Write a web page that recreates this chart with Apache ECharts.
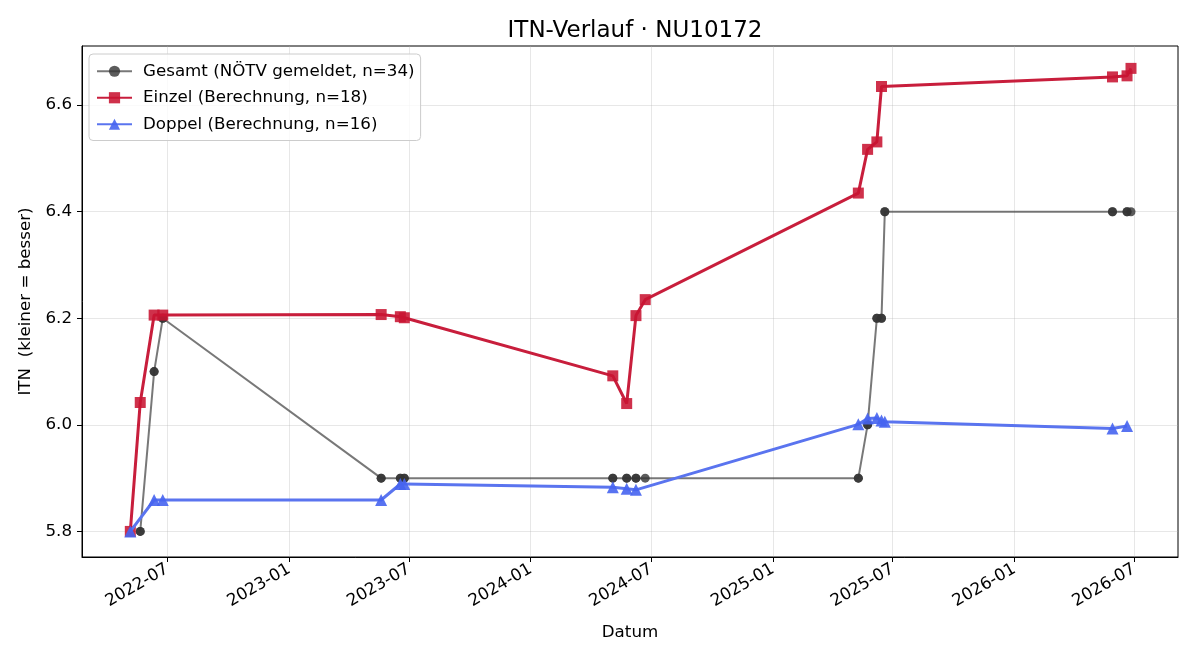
<!DOCTYPE html>
<html>
<head>
<meta charset="utf-8">
<script src="https://cdn.jsdelivr.net/npm/echarts@6/dist/echarts.min.js"></script>
<style>
  html, body { margin: 0; padding: 0; background: #fff; }
  #itnChart { width: 1200px; height: 660px; }
</style>
</head>
<body>
<div id="itnChart"></div>
<script>
// Gesamt (NÖTV gemeldet) - many reports fall on the same day
const gesamtDates = [
  '2022-05-21', '2022-05-21', '2022-06-11', '2022-06-11', '2022-06-24', '2022-06-24',
  '2023-05-20', '2023-05-20', '2023-06-18', '2023-06-18', '2023-06-24', '2023-06-24',
  '2024-05-04', '2024-05-04', '2024-05-25', '2024-05-25', '2024-06-08', '2024-06-08',
  '2024-06-22', '2025-05-10', '2025-05-10', '2025-05-24', '2025-05-24', '2025-06-07',
  '2025-06-07', '2025-06-14', '2025-06-14', '2025-06-19', '2025-06-19', '2026-05-29',
  '2026-05-29', '2026-06-20', '2026-06-20', '2026-06-26'
];
const gesamtValues = [
  5.8, 5.8, 6.1, 6.1, 6.2, 6.2,
  5.9, 5.9, 5.9, 5.9, 5.9, 5.9,
  5.9, 5.9, 5.9, 5.9, 5.9, 5.9,
  5.9, 5.9, 5.9, 6.0, 6.0, 6.2,
  6.2, 6.2, 6.2, 6.4, 6.4, 6.4,
  6.4, 6.4, 6.4, 6.4
];

const einzelDates = [
  '2022-05-06', '2022-05-21', '2022-06-11', '2022-06-24', '2023-05-20', '2023-06-18',
  '2023-06-24', '2024-05-04', '2024-05-25', '2024-06-08', '2024-06-22', '2025-05-10',
  '2025-05-24', '2025-06-07', '2025-06-14', '2026-05-29', '2026-06-20', '2026-06-26'
];
const einzelValues = [
  5.8, 6.042, 6.206, 6.206, 6.207, 6.203,
  6.201, 6.092, 6.040, 6.205, 6.235, 6.435,
  6.517, 6.531, 6.635, 6.653, 6.655, 6.669
];

const doppelDates = [
  '2022-05-06', '2022-06-11', '2022-06-24', '2023-05-20', '2023-06-18', '2023-06-24',
  '2024-05-04', '2024-05-25', '2024-06-08', '2025-05-10', '2025-05-24', '2025-06-07',
  '2025-06-14', '2025-06-19', '2026-05-29', '2026-06-20'
];
const doppelValues = [
  5.8, 5.859, 5.859, 5.859, 5.889, 5.889,
  5.883, 5.880, 5.878, 6.001, 6.012, 6.013,
  6.008, 6.006, 5.993, 5.998
];

const xTickLabels = ['2022-07', '2023-01', '2023-07', '2024-01', '2024-07', '2025-01', '2025-07', '2026-01', '2026-07'];
const yTickValues = [5.8, 6.0, 6.2, 6.4, 6.6];

const seriesNames = [
  'Gesamt (NÖTV gemeldet, n=34)',
  'Einzel (Berechnung, n=18)',
  'Doppel (Berechnung, n=16)'
];

// days since 1970-01-01 (UTC), so the x axis is a plain value axis
const toDay = (s) => {
  const p = s.split('-').map(Number);
  return Date.UTC(p[0], p[1] - 1, p[2] || 1) / 86400000;
};
const pairUp = (dates, values) => dates.map((d, i) => [toDay(d), values[i]]);
const pad2 = (n) => (n < 10 ? '0' + n : '' + n);

const FONT = 'DejaVu Sans';
const FS = 16.7;

const chartDom = document.getElementById('itnChart');
const myChart = echarts.init(chartDom, null, { renderer: 'canvas', devicePixelRatio: 1 });

const xTicks = xTickLabels.map(toDay);

const option = {
  animation: false,
  backgroundColor: '#fff',
  textStyle: { fontFamily: FONT },
  title: {
    text: 'ITN-Verlauf · NU10172',
    left: 630,
    textAlign: 'center',
    top: 15,
    textStyle: { fontFamily: FONT, fontSize: 23, fontWeight: 'normal', color: '#000' }
  },
  legend: {
    left: 89,
    top: 54,
    orient: 'vertical',
    itemWidth: 35,
    itemHeight: 14,
    itemGap: 8,
    padding: [8, 6, 7, 7],
    backgroundColor: 'rgba(255,255,255,0.8)',
    borderColor: '#cccccc',
    borderWidth: 1,
    borderRadius: 4,
    textStyle: { fontFamily: FONT, fontSize: FS, lineHeight: 18.5, color: '#000', padding: [0, 0, 0, 6] },
    data: seriesNames
  },
  grid: {
    left: 82,
    right: 22,
    top: 46,
    bottom: 103,
    show: true,
    borderColor: '#000',
    borderWidth: 1,
    containLabel: false
  },
  xAxis: {
    type: 'value',
    min: toDay('2022-02-22'),
    max: toDay('2026-09-05'),
    name: 'Datum',
    nameLocation: 'middle',
    nameGap: 67,
    nameTextStyle: { fontFamily: FONT, fontSize: FS, color: '#000' },
    axisLine: { show: true, lineStyle: { color: '#000', width: 1 } },
    axisTick: { show: true, inside: false, length: 5, lineStyle: { color: '#000' }, customValues: xTicks },
    axisLabel: {
      customValues: xTicks,
      rotate: 30,
      margin: 11,
      fontFamily: FONT,
      fontSize: FS,
      color: '#000',
      hideOverlap: false,
      formatter: (v) => {
        const d = new Date(Math.round(v) * 86400000);
        return d.getUTCFullYear() + '-' + pad2(d.getUTCMonth() + 1);
      }
    },
    splitLine: { show: true, lineStyle: { color: '#b0b0b0', opacity: 0.3, width: 1 } }
  },
  yAxis: {
    type: 'value',
    min: 5.752,
    max: 6.711,
    name: 'ITN  (kleiner = besser)',
    nameLocation: 'middle',
    nameGap: 47,
    nameTextStyle: { fontFamily: FONT, fontSize: FS, color: '#000' },
    axisLine: { show: true, lineStyle: { color: '#000', width: 1 } },
    axisTick: { show: true, inside: false, length: 5, lineStyle: { color: '#000' }, customValues: yTickValues },
    axisLabel: {
      customValues: yTickValues,
      margin: 10,
      fontFamily: FONT,
      fontSize: FS,
      color: '#000',
      formatter: (v) => v.toFixed(1)
    },
    splitLine: { show: true, lineStyle: { color: '#b0b0b0', opacity: 0.3, width: 1 } }
  },
  series: [
    {
      name: seriesNames[0],
      type: 'line',
      data: pairUp(gesamtDates, gesamtValues),
      symbol: 'circle',
      symbolSize: 9,
      z: 2,
      lineStyle: { color: 'rgba(75,75,75,0.75)', width: 2 },
      itemStyle: { color: 'rgba(51,51,51,0.8)', borderWidth: 0 }
    },
    {
      name: seriesNames[1],
      type: 'line',
      data: pairUp(einzelDates, einzelValues),
      symbol: 'rect',
      symbolSize: 11,
      z: 3,
      lineStyle: { color: '#c81e3c', width: 3 },
      itemStyle: { color: 'rgba(200,20,50,0.88)', borderWidth: 0 }
    },
    {
      name: seriesNames[2],
      type: 'line',
      data: pairUp(doppelDates, doppelValues),
      symbol: 'triangle',
      symbolSize: 12,
      z: 4,
      lineStyle: { color: '#5a74ef', width: 3 },
      itemStyle: { color: 'rgba(70,100,240,0.9)', borderWidth: 0 }
    }
  ]
};

option && myChart.setOption(option);
</script>
</body>
</html>
